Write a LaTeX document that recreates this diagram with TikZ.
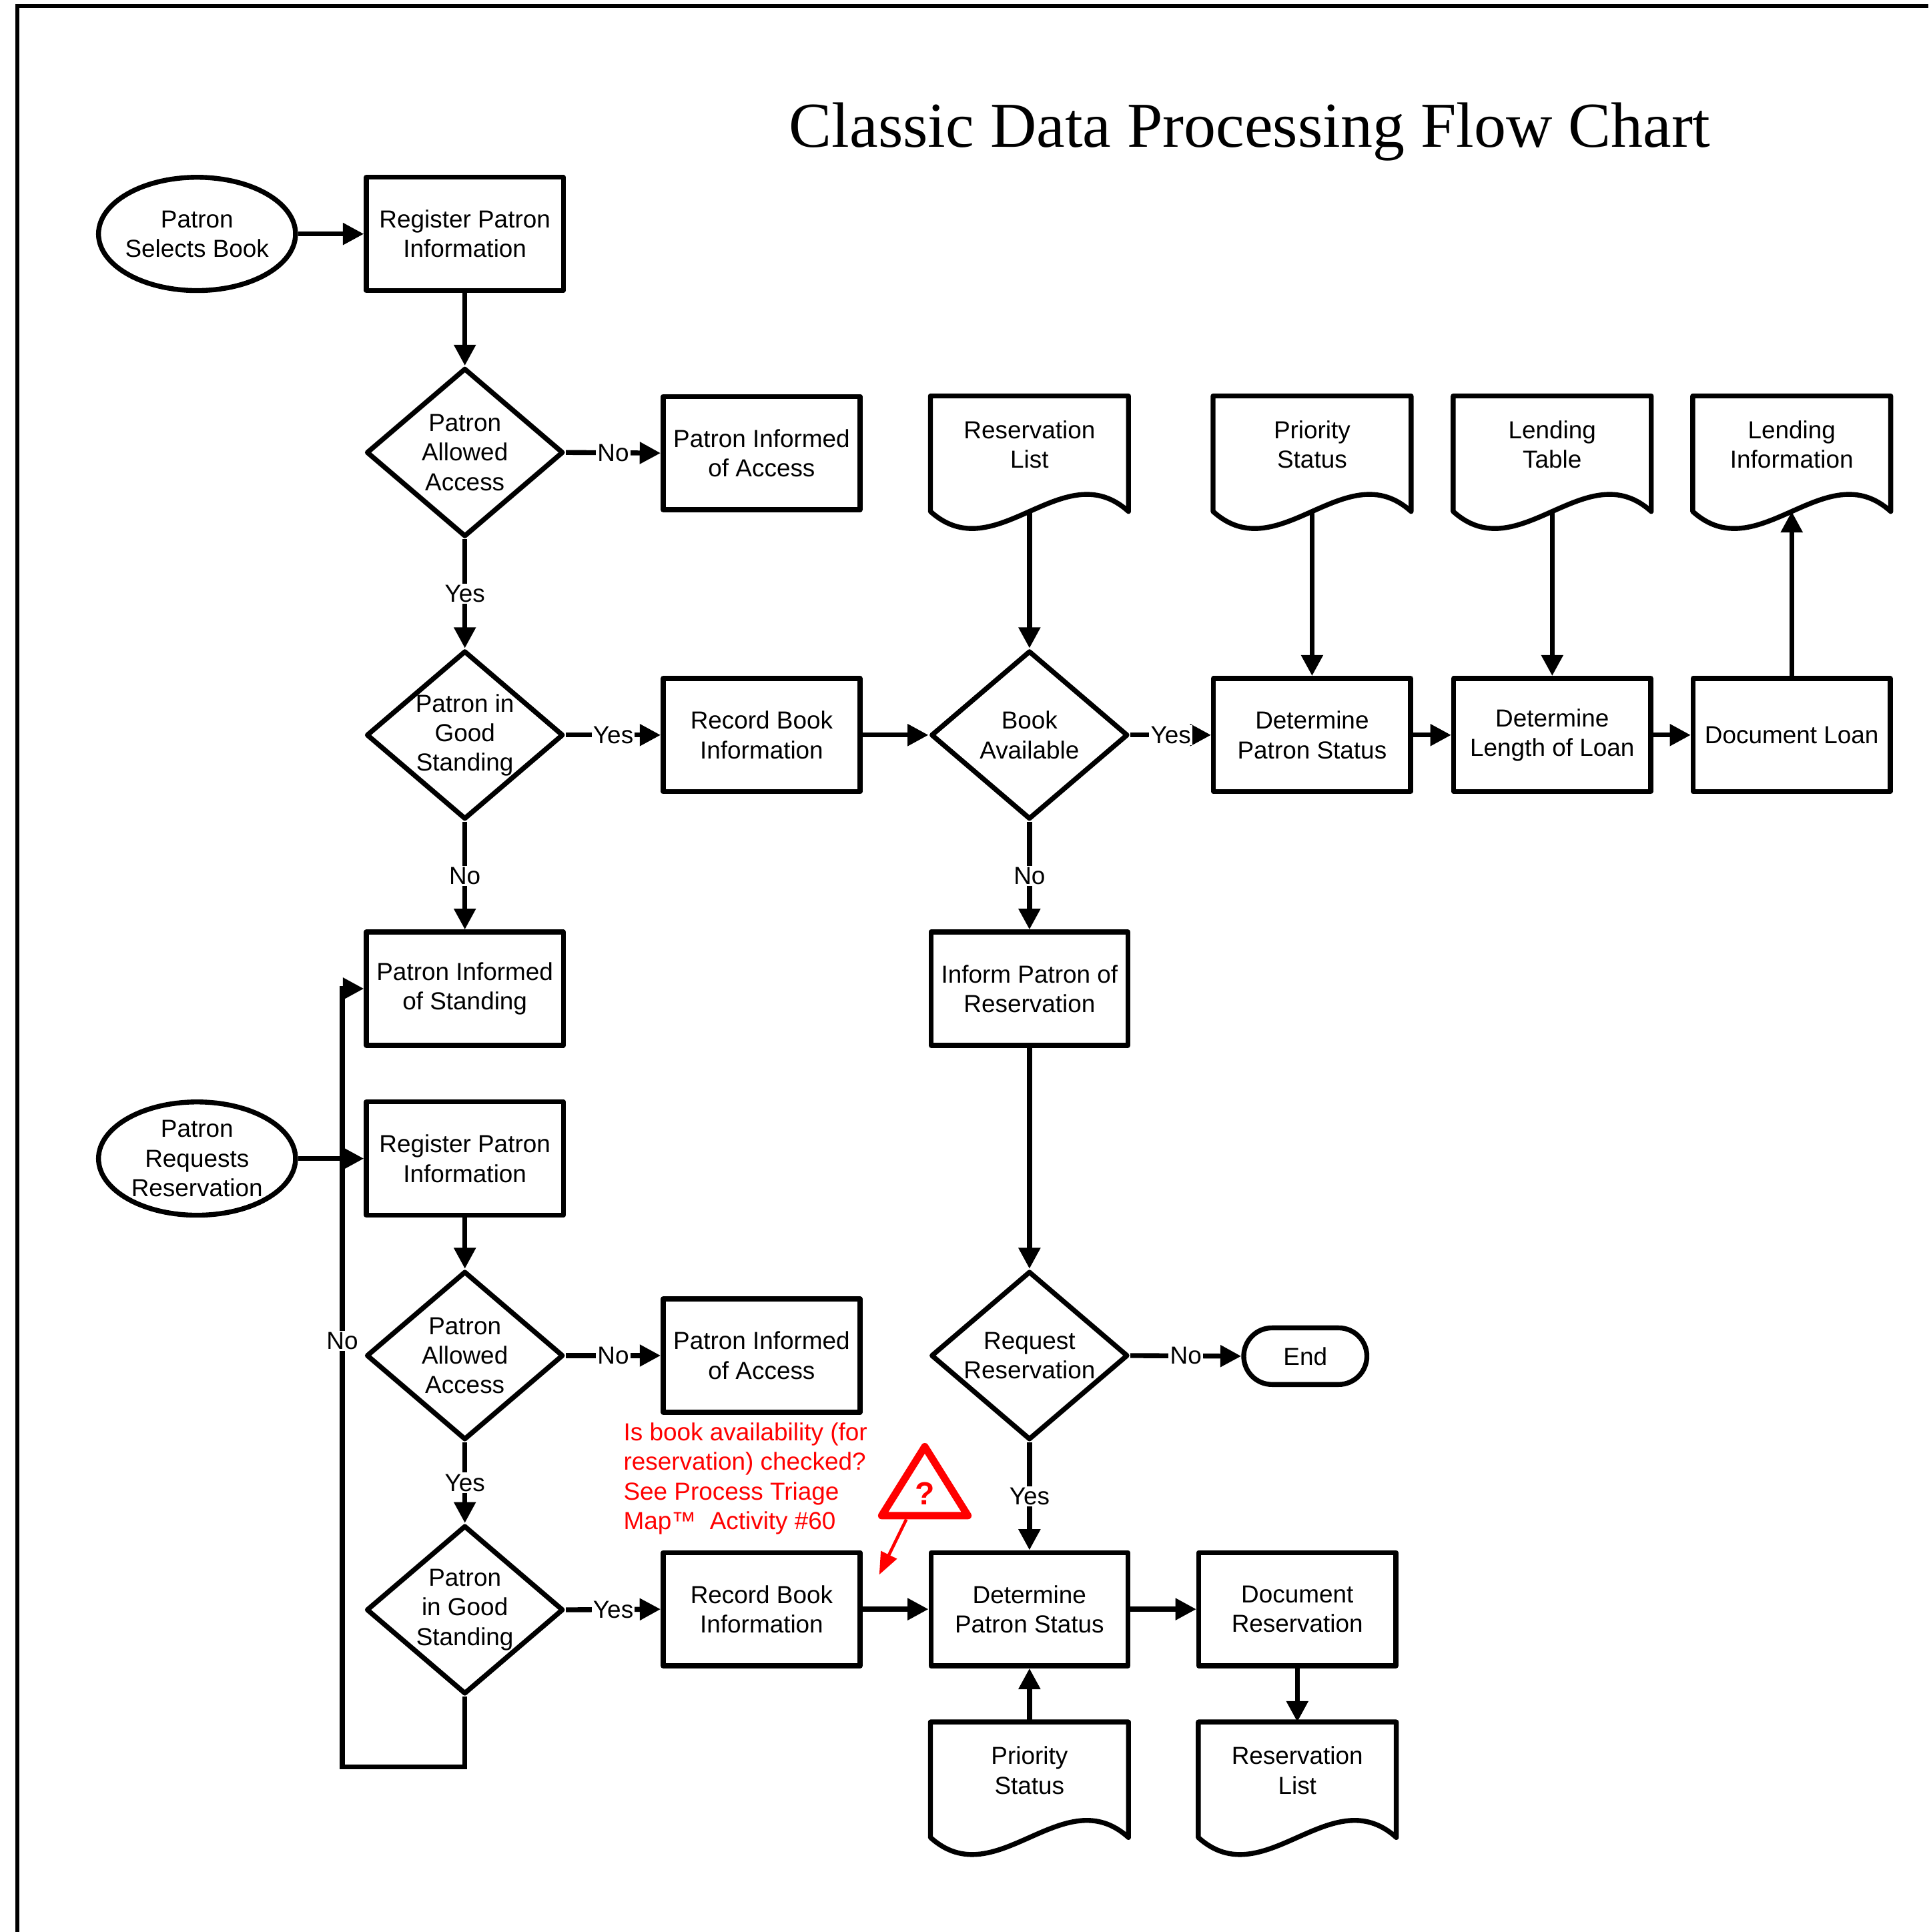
\documentclass[tikz,border=0pt]{standalone}
\usepackage{fontspec}
\setmainfont{Liberation Sans}
\newfontfamily\titlefont{Liberation Serif}
\usetikzlibrary{shapes.geometric,arrows.meta,calc}
\newcommand\mydoc[1]{\draw[shapeline] (#1.south west) -- (#1.north west) -- (#1.north east) -- (#1.south east) .. controls ($(#1.south east)+(-53,-48)$) and ($(#1.south west)+(53,48)$) .. (#1.south west);}
\begin{document}
\begin{tikzpicture}[x=0.5pt,y=-0.5pt,
  every node/.style={font=\fontsize{10}{12}\selectfont},
  shapeline/.style={draw=black,line width=2pt,line join=round,line cap=round},
  box/.style={rectangle,shapeline,minimum width=80pt,minimum height=46pt,inner sep=0pt,align=center},
  dia/.style={diamond,shapeline,minimum width=80pt,minimum height=68.5pt,inner sep=0pt},
  ell/.style={ellipse,shapeline,minimum width=80pt,minimum height=46pt,inner sep=0pt},
  docnode/.style={rectangle,draw=none,minimum width=80pt,minimum height=46.5pt,inner sep=0pt},
  txt/.style={align=center,inner sep=0pt},
  term/.style={rectangle,rounded corners=11.5pt,shapeline,minimum width=50pt,minimum height=23pt,inner sep=0pt},
  arr/.style={line width=2pt,-{Triangle[length=8.5pt,width=8.5pt]}},
  lbl/.style={fill=white,inner sep=0.6pt},
]
\useasboundingbox (0,0) rectangle (1566,1569.2);
% frame
\draw[line width=1.75pt] (14,1569.2) -- (14,5) -- (1566,5);
% title
\node[anchor=base,inner sep=0pt,font=\titlefont\fontsize{26}{30}\selectfont] (title) at (1015,119.5) {Classic Data Processing Flow Chart};

% ---- upper flow
\node[ell,label={[txt]center:Patron\\Selects Book}] (e1) at (160,190) {};
\node[box] (r1) at (377.5,190) {Register Patron\\Information};
\node[dia,label={[txt]center:Patron\\Allowed\\Access}] (d1) at (377.5,367.5) {};
\node[box] (pia1) at (618.5,368) {Patron Informed\\of Access};
\node[dia,label={[txt]center:Patron in\\Good\\Standing}] (d2) at (377.5,597) {};
\node[box] (rb1) at (618.5,597) {Record Book\\Information};
\node[dia,label={[txt]center:Book\\Available}] (ba) at (836,597) {};
\node[box] (dps1) at (1065.5,597) {Determine\\Patron Status};
\node[box] (dll) at (1260.5,597) {Determine\\Length of Loan};
\node[box] (dl) at (1455,597) {Document Loan};
\node[docnode,label={[txt,yshift=3.75pt]center:Reservation\\List}] (rl1) at (836,368.5) {};
\node[docnode,label={[txt,yshift=3.75pt]center:Priority\\Status}] (ps1) at (1065.5,368.5) {};
\node[docnode,label={[txt,yshift=3.75pt]center:Lending\\Table}] (lt) at (1260.5,368.5) {};
\node[docnode,label={[txt,yshift=3.75pt]center:Lending\\Information}] (li) at (1455,368.5) {};
\mydoc{rl1}\mydoc{ps1}\mydoc{lt}\mydoc{li}
\node[box] (pis) at (377.5,803) {Patron Informed\\of Standing};
\node[box] (ipr) at (836,803) {Inform Patron of\\Reservation};

% ---- lower flow
\node[ell,label={[txt]center:Patron\\Requests\\Reservation}] (e2) at (160,941) {};
\node[box] (r2) at (377.5,941) {Register Patron\\Information};
\node[dia,label={[txt]center:Patron\\Allowed\\Access}] (d3) at (377.5,1101) {};
\node[box] (pia2) at (618.5,1101) {Patron Informed\\of Access};
\node[dia,label={[txt]center:Patron\\in Good\\Standing}] (d4) at (377.5,1307.5) {};
\node[box] (rb2) at (618.5,1307) {Record Book\\Information};
\node[dia,label={[txt]center:Request\\Reservation}] (rr) at (836,1101) {};
\node[term] (end) at (1060,1101.5) {End};
\node[box] (dps2) at (836,1307) {Determine\\Patron Status};
\node[box] (dr) at (1053.5,1307) {Document\\Reservation};
\node[docnode,label={[txt,yshift=3.75pt]center:Reservation\\List}] (rl2) at (1053.5,1445.5) {};
\node[docnode,label={[txt,yshift=3.75pt]center:Priority\\Status}] (ps2) at (836,1445.5) {};
\mydoc{rl2}\mydoc{ps2}

% ---- connectors upper
\draw[arr] (e1.east) -- (r1.west);
\draw[arr] (r1.south) -- (d1.north);
\draw[arr] (d1.east) -- node[lbl]{No} (pia1.west);
\draw[arr] (d1.south) -- node[lbl]{Yes} (d2.north);
\draw[arr] (d2.east) -- node[lbl]{Yes} (rb1.west);
\draw[arr] (d2.south) -- node[lbl]{No} (pis.north);
\draw[arr] (rb1.east) -- (ba.west);
\draw[arr] (rl1.south) -- (ba.north);
\draw[arr] (ba.east) -- node[lbl]{Yes} (dps1.west);
\draw[arr] (ba.south) -- node[lbl]{No} (ipr.north);
\draw[arr] (ps1.south) -- (dps1.north);
\draw[arr] (dps1.east) -- (dll.west);
\draw[arr] (lt.south) -- (dll.north);
\draw[arr] (dll.east) -- (dl.west);
\draw[arr] (dl.north) -- (li.south);

% ---- connectors lower
\coordinate (loopc) at (278,1435);
\draw[arr] (d4.south) |- (loopc) -- node[lbl,pos=0.547]{No} (loopc |- pis.west) -- (pis.west);
\draw[arr] (e2.east) -- (r2.west);
\draw[arr] (r2.south) -- (d3.north);
\draw[arr] (d3.east) -- node[lbl]{No} (pia2.west);
\draw[arr] (d3.south) -- node[lbl]{Yes} (d4.north);
\draw[arr] (d4.east) -- node[lbl]{Yes} (rb2.west);
\draw[arr] (rb2.east) -- (dps2.west);
\draw[arr] (ipr.south) -- (rr.north);
\draw[arr] (rr.east) -- node[lbl]{No} (end.west);
\draw[arr] (rr.south) -- node[lbl]{Yes} (dps2.north);
\draw[arr] (dps2.east) -- (dr.west);
\draw[arr] (dr.south) -- (rl2.north);
\draw[arr] (ps2.north) -- (dps2.south);

% ---- red annotation
\node[anchor=west,align=left,text=red,inner sep=0pt] (note) at (506,1201) {Is book availability (for\\reservation) checked?\\See Process Triage\\Map™~~Activity \#60};
\draw[red,line width=3pt,line join=round] (751,1175) -- (786,1231) -- (716,1231) -- cycle;
\node[text=red,inner sep=0pt,font=\bfseries\fontsize{13}{15}\selectfont] (q) at (751,1213) {?};
\coordinate (warnA) at (736,1234);
\coordinate (warnB) at (714,1279);
\draw[red,line width=1.25pt,-{Triangle[length=9pt,width=7pt]}] (warnA) -- (warnB);
\end{tikzpicture}
\end{document}
